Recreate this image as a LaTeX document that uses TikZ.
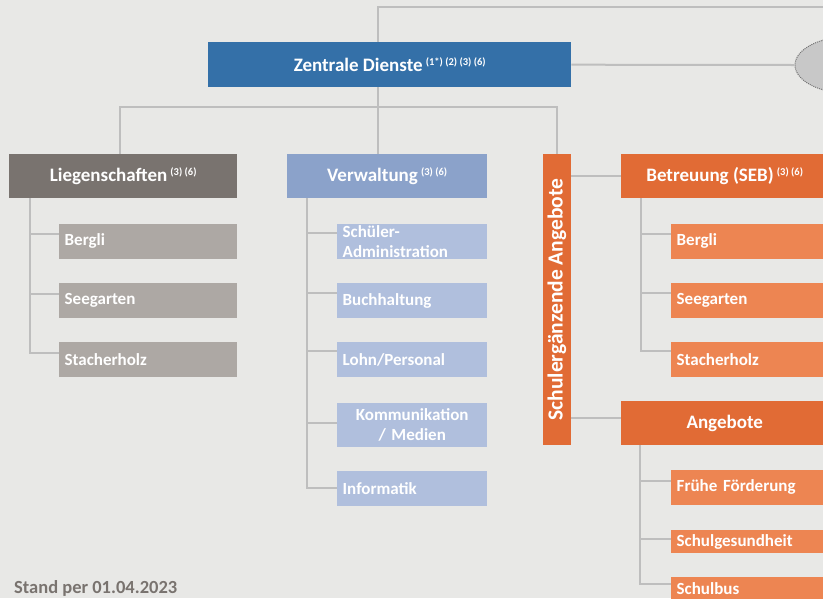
\documentclass[tikz,border=0pt]{standalone}
\usepackage{fontspec}
\setmainfont{Carlito}
\usepackage{tikz}
\usetikzlibrary{positioning}
\usetikzlibrary{shapes.geometric}

\definecolor{Backdrop}{RGB}{232,232,230}
\definecolor{LinkGrey}{RGB}{190,190,190}
\definecolor{ZdBlue}{RGB}{52,112,168}
\definecolor{LgDark}{RGB}{121,115,111}
\definecolor{LgLight}{RGB}{173,168,164}
\definecolor{VwDark}{RGB}{139,162,202}
\definecolor{VwLight}{RGB}{176,191,221}
\definecolor{SaDark}{RGB}{225,107,53}
\definecolor{SaLight}{RGB}{237,133,82}
\definecolor{GremGrey}{RGB}{200,200,200}

\newcommand{\fnrefs}[1]{\,\raisebox{6pt}{\fontsize{10.5}{10.5}\selectfont #1}}

\tikzset{
    headbox/.style = {rectangle, text=white, inner sep=0pt, minimum height=44pt,
                      font=\fontsize{19}{22}\selectfont\bfseries},
    subbox/.style  = {rectangle, text=white, inner xsep=5.5pt, inner ysep=0pt,
                      minimum height=35pt, text width=#1, align=left,
                      font=\fontsize{17}{20}\selectfont\bfseries},
    link/.style    = {draw=LinkGrey, line width=2pt},
}

\begin{document}
\begin{tikzpicture}[x=1pt, y=-1pt]

    \useasboundingbox (0,0) rectangle (823,598);
    \fill[Backdrop] (0,0) rectangle (823,598);
    \clip (0,0) rectangle (823,598);

    %Top
    \node[headbox, fill=ZdBlue, anchor=north west, minimum width=363pt, minimum height=45pt] (Zentrale) at (208,42) {Zentrale Dienste\fnrefs{(1*) (2) (3) (6)}};

    \node[ellipse, draw=gray!90!black, densely dotted, line width=1pt, fill=GremGrey, minimum width=110pt, minimum height=57pt] (Gremium) at (850,65) {};

    \coordinate (TopLink) at (378,7);
    \coordinate (TopEnd) at (830,7);
    \coordinate (Split) at (378,107);

    %-------------------------------------------
    %Liegenschaften
    \node[headbox, fill=LgDark, anchor=north west, minimum width=228pt] (Liegenschaften) at (9,154) {Liegenschaften\fnrefs{(3) (6)}};

    \node[subbox=167pt, fill=LgLight, below right = 25pt and 50pt of Liegenschaften.south west] (LiegBergli) {Bergli};
    \node[subbox=167pt, fill=LgLight, below = 24pt of LiegBergli] (LiegSeegarten) {Seegarten};
    \node[subbox=167pt, fill=LgLight, below = 24pt of LiegSeegarten] (LiegStacherholz) {Stacherholz};

    %-------------------------------------------
    %Verwaltung
    \node[headbox, fill=VwDark, anchor=north west, minimum width=200pt] (Verwaltung) at (287,154) {Verwaltung\fnrefs{(3) (6)}};

    \node[subbox=139pt, fill=VwLight, below right = 25pt and 50pt of Verwaltung.south west] (VerwSchueler) {Schüler-\\Administration};
    \node[subbox=139pt, fill=VwLight, below = 24pt of VerwSchueler] (VerwBuch) {Buchhaltung};
    \node[subbox=139pt, fill=VwLight, below = 24pt of VerwBuch] (VerwLohn) {Lohn/Personal};
    \node[subbox=139pt, fill=VwLight, below = 25pt of VerwLohn, minimum height=44pt, align=center] (VerwKomm) {Kommunikation\\/ Medien};
    \node[subbox=139pt, fill=VwLight, below = 24pt of VerwKomm] (VerwInfo) {Informatik};

    %-------------------------------------------
    %Schulergaenzende Angebote
    \node[headbox, fill=SaDark, rotate=90, minimum width=291pt, minimum height=28pt, font=\fontsize{21.5}{22}\selectfont\bfseries] (Schulergaenzend) at (557,299.5) {Schulergänzende Angebote};

    \node[headbox, fill=SaDark, anchor=north west, minimum width=207pt] (Betreuung) at (621,154) {Betreuung (SEB)\fnrefs{(3) (6)}};

    \node[subbox=149pt, fill=SaLight, below right = 25pt and 50pt of Betreuung.south west] (BetrBergli) {Bergli};
    \node[subbox=149pt, fill=SaLight, below = 24pt of BetrBergli] (BetrSeegarten) {Seegarten};
    \node[subbox=149pt, fill=SaLight, below = 24pt of BetrSeegarten] (BetrStacherholz) {Stacherholz};

    \node[headbox, fill=SaDark, anchor=north west, minimum width=207pt] (Angebote) at (621,401) {Angebote};

    \node[subbox=149pt, fill=SaLight, below right = 24pt and 50pt of Angebote.south west] (AngFrueh) {Frühe Förderung};
    \node[subbox=149pt, fill=SaLight, below = 25pt of AngFrueh, minimum height=23pt] (AngGesund) {Schulgesundheit};
    \node[subbox=149pt, fill=SaLight, below = 24pt of AngGesund, minimum height=23pt] (AngBus) {Schulbus};

    %-------------------------------------------
    %Connectors
    \draw[link] (Zentrale.north -| TopLink) -- (TopLink) -- (TopEnd);
    \draw[link] (Zentrale.east) -- (Gremium.west);
    \draw[link] (Zentrale.south -| Split) -- (Split);
    \draw[link] (Split) -| ([xshift=-3pt]Liegenschaften.north);
    \draw[link] (Split) -- (Verwaltung.north -| Split);
    \draw[link] (Split) -| (Schulergaenzend.east);

    \foreach \n/\d in {LiegBergli/7,LiegSeegarten/7,LiegStacherholz/7}
        \draw[link] ([xshift=21pt]Liegenschaften.south west) |- ([yshift=\d pt]\n.west);
    \foreach \n/\d in {VerwSchueler/8,VerwBuch/8,VerwLohn/9,VerwKomm/2,VerwInfo/1}
        \draw[link] ([xshift=20pt]Verwaltung.south west) |- ([yshift=\d pt]\n.west);
    \foreach \n/\d in {BetrBergli/7,BetrSeegarten/8,BetrStacherholz/9}
        \draw[link] ([xshift=20pt]Betreuung.south west) |- ([yshift=\d pt]\n.west);
    \foreach \n/\d in {AngFrueh/6,AngGesund/3,AngBus/5}
        \draw[link] ([xshift=19pt]Angebote.south west) |- ([yshift=\d pt]\n.west);

    \draw[link] (Schulergaenzend.south |- Betreuung.west) -- (Betreuung.west);
    \draw[link] ([yshift=5pt]Schulergaenzend.south |- Angebote.west) -- ([yshift=5pt]Angebote.west);

    %-------------------------------------------
    %Labels
    \node[anchor=base west, text=LgDark, inner sep=0pt, font=\fontsize{18.5}{22}\selectfont\bfseries] (Stand) at (14,593) {Stand per 01.04.2023};

\end{tikzpicture}
\end{document}
